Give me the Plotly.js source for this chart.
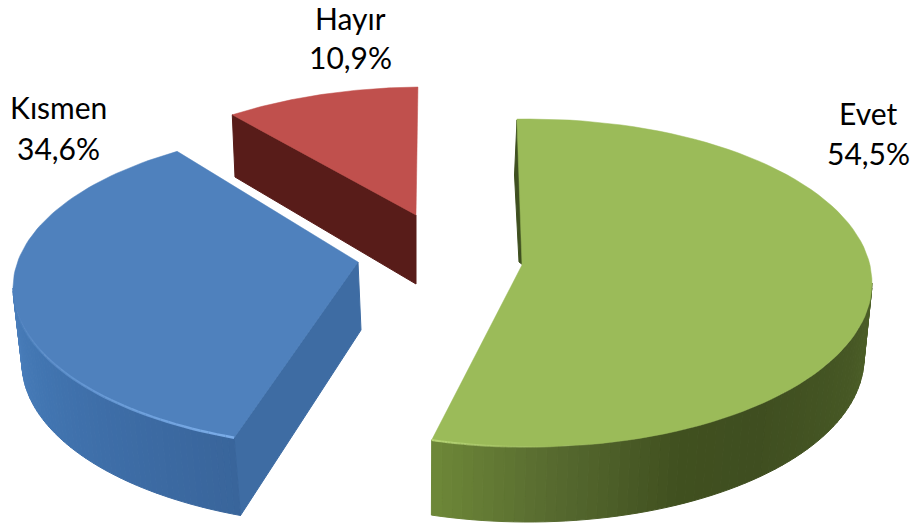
<!DOCTYPE html>
<html>
<head>
<meta charset="utf-8">
<script src="https://cdn.plot.ly/plotly-3.0.1.min.js"></script>
<style>html,body{margin:0;padding:0;background:#fff}#chart{width:915px;height:524px}</style>
</head>
<body>
<div id="chart"></div>
<script>
// Chart data
var categories = ["Evet", "Kısmen", "Hayır"];
var shares = [54.5, 34.6, 10.9];

// Drawing style (perspective of the 3D pie is emulated on pixel-like axes)
var faceColors = ["#9BBB59", "#4F81BD", "#C0504D"];
var wallStops = [
  [[0,"#4e6128"],[0.2,"#465724"],[0.45,"#3f4e20"],[0.6,"#40501f"],[0.8,"#56692f"],[1,"#6e8838"]],
  [[0,"#39659b"],[0.4,"#3e6ea8"],[0.7,"#4276b2"],[1,"#4a7ebb"]],
  [[0,"#5a1d1a"],[1,"#5a1d1a"]]
];
var geom = [
  {top:{cx:530,cy:283,a:342,b:164}, bot:{cx:528,cy:358,a:336,b:164}, apex:[522,265], apexBot:[523,265], start:-2.2, stretch:1.0138},
  {top:{cx:355,cy:288,a:342,b:160}, bot:{cx:360,cy:363,a:338,b:163}, apex:[358,262], apexBot:[361,330], start:200.7, stretch:1.0273},
  {top:{cx:425,cy:247,a:342,b:160}, bot:{cx:425,cy:315,a:336,b:156}, apex:[416,215], apexBot:[416,284], start:325.7, stretch:0.844}
];
var labelPos = [
  {x:868, yName:113, yPct:153},
  {x:58,  yName:107, yPct:148},
  {x:350, yName:18,  yPct:57, boxH:36}
];
var FONT = "Lato, 'Open Sans', sans-serif";

function pt(e, deg){
  var r = deg*Math.PI/180;
  return [e.cx + e.a*Math.sin(r), e.cy - e.b*Math.cos(r)];
}
function hex(c){return [1,3,5].map(function(i){return parseInt(c.substr(i,2),16);});}
function mix(stops,t){
  for(var i=1;i<stops.length;i++){
    if(t<=stops[i][0]){
      var f=(t-stops[i-1][0])/(stops[i][0]-stops[i-1][0]);
      var A=hex(stops[i-1][1]),B=hex(stops[i][1]);
      return "rgb("+A.map(function(v,k){return Math.round(v+(B[k]-v)*f);}).join(",")+")";
    }
  }
  return stops[stops.length-1][1];
}
var traces=[];
function poly(points,color,lineColor,w){
  traces.push({type:"scatter",mode:"lines",fill:"toself",fillcolor:color,
    x:points.map(function(p){return p[0];}).concat([points[0][0]]),
    y:points.map(function(p){return p[1];}).concat([points[0][1]]),
    line:{color:lineColor||color,width:w===undefined?1:w},hoverinfo:"skip",showlegend:false});
}
function seg(p,q,color,w){
  traces.push({type:"scatter",mode:"lines",x:[p[0],q[0]],y:[p[1],q[1]],
    line:{color:color,width:w},hoverinfo:"skip",showlegend:false});
}

// Green inner sliver
poly([[517,120],[514.5,175],[519,262],[523,265]],"#3f5020");

shares.forEach(function(v,i){
  var g=geom[i], sweep=v*3.6*g.stretch, s=g.start, e=s+sweep;
  var j,n;
  // inner walls
  if(i===1){
    poly([pt(g.top,s),g.apex,g.apexBot,pt(g.bot,s)],"#3e6ca3");
  }
  if(i===2){
    poly([pt(g.top,s),g.apex,g.apexBot,[235,177]],"#581c19");
  }
  // outer wall, front half only
  var w0=Math.max(s,90), w1=Math.min(e,270);
  if(w1>w0){
    n=60;
    for(j=0;j<n;j++){
      var a0=w0+(w1-w0)*j/n, a1=w0+(w1-w0)*(j+1)/n;
      poly([pt(g.top,a0),pt(g.top,a1),pt(g.bot,a1),pt(g.bot,a0)],mix(wallStops[i],(j+0.5)/n));
    }
  }
  // top face
  var face=[g.apex];
  n=90;
  for(j=0;j<=n;j++){face.push(pt(g.top,s+sweep*j/n));}
  poly(face,faceColors[i],faceColors[i],0.5);
});

// Bevel highlights along the front rim
var rimBlue=geom[1], rimGreen=geom[0];
(function(){
  var j,n=40;
  for(j=0;j<n;j++){
    var a0=200.7+62*j/n,a1=200.7+62*(j+1)/n;
    seg(pt(rimBlue.top,a0),pt(rimBlue.top,a1),"rgba(125,175,235,"+(0.95*(1-j/n)).toFixed(3)+")",2.5);
  }
  var end=geom[0].start+shares[0]*3.6*geom[0].stretch;
  for(j=0;j<n;j++){
    var b0=end-22*j/n,b1=end-22*(j+1)/n;
    seg(pt(rimGreen.top,b0),pt(rimGreen.top,b1),"rgba(185,215,120,"+(0.95*(1-j/n)).toFixed(3)+")",2);
  }
})();

var annotations=[];
categories.forEach(function(c,i){
  var nameAnn={x:labelPos[i].x,y:labelPos[i].yName,xref:"x",yref:"y",text:c,showarrow:false,
    font:{family:FONT,size:30,color:"#000"},xanchor:"center",yanchor:"middle"};
  if(labelPos[i].boxH){nameAnn.height=labelPos[i].boxH;nameAnn.borderpad=0;}
  annotations.push(nameAnn);
  annotations.push({x:labelPos[i].x,y:labelPos[i].yPct,xref:"x",yref:"y",
    text:shares[i].toFixed(1).replace(".",",")+"%",showarrow:false,
    font:{family:FONT,size:30,color:"#000"},xanchor:"center",yanchor:"middle"});
});

Plotly.newPlot("chart",traces,{
  width:915,height:524,margin:{l:0,r:0,t:0,b:0},
  paper_bgcolor:"#fff",plot_bgcolor:"#fff",showlegend:false,
  xaxis:{range:[0,915],visible:false,fixedrange:true},
  yaxis:{range:[524,0],visible:false,fixedrange:true},
  annotations:annotations
},{displayModeBar:false,staticPlot:true});
</script>
</body>
</html>
